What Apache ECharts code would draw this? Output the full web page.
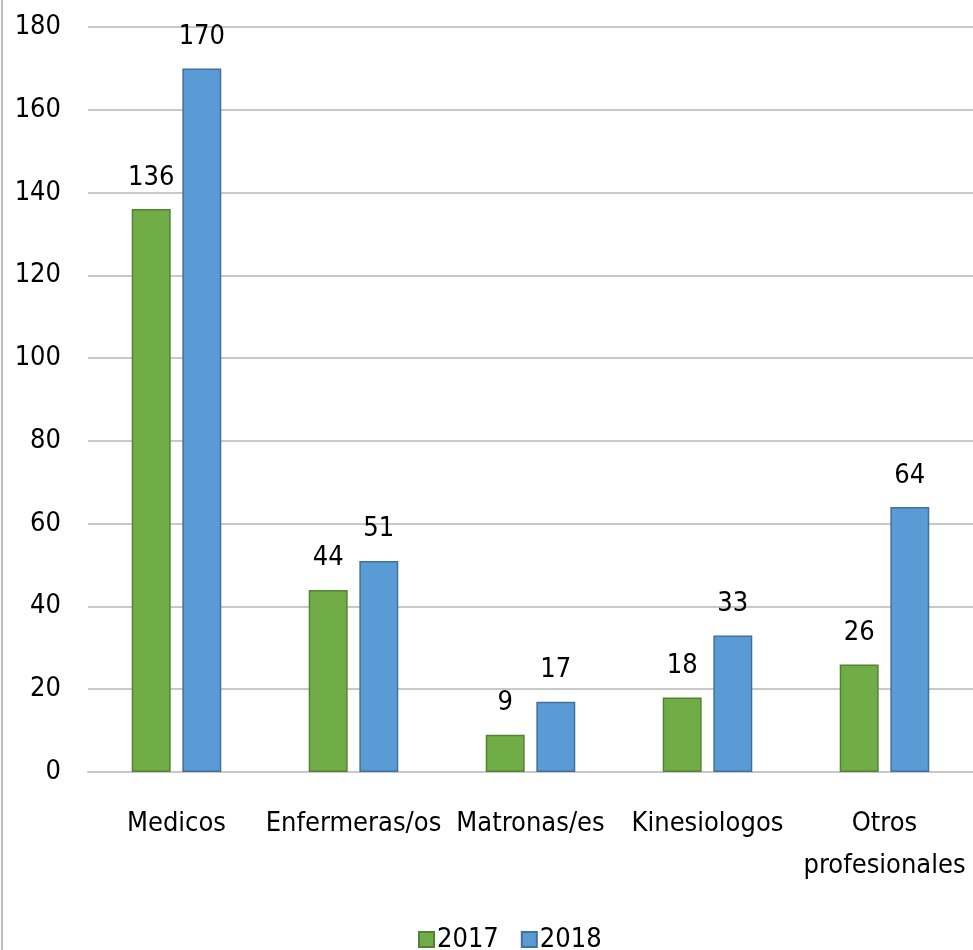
<!DOCTYPE html>
<html><head><meta charset="utf-8">
<script src="https://cdn.jsdelivr.net/npm/echarts@6/dist/echarts.min.js"></script>
<style>html,body{margin:0;padding:0;background:#fff}#c{width:973px;height:950px}</style>
</head><body><div id="c"></div>
<script>
const categories = ['Medicos', 'Enfermeras/os', 'Matronas/es', 'Kinesiologos', 'Otros\nprofesionales'];
const values2017 = [136, 44, 9, 18, 26];
const values2018 = [170, 51, 17, 33, 64];
const seriesNames = ['2017', '2018'];
const yTicks = {min: 0, max: 180, interval: 20};

const FONT = "'DejaVu Sans Condensed', sans-serif";
const FS = 27;
const chart = echarts.init(document.getElementById('c'));
const lbl = {show: true, position: 'top', distance: 18, fontFamily: FONT, fontSize: FS, color: '#000'};
chart.setOption({
  animation: false,
  grid: {left: 88, right: -4, top: 27, bottom: 178, containLabel: false},
  legend: {
    top: 921, left: 413, itemWidth: 15, itemHeight: 15, itemGap: 22, icon: 'rect',
    textStyle: {fontFamily: FONT, fontSize: FS, color: '#000', padding: [0, 0, 0, -2]},
    data: seriesNames
  },
  xAxis: {
    type: 'category', data: categories,
    axisLine: {lineStyle: {color: '#c8c8c8', width: 2}},
    axisTick: {show: false},
    axisLabel: {fontFamily: FONT, fontSize: FS, color: '#000', margin: 31, lineHeight: 42, interval: 0}
  },
  yAxis: {
    type: 'value', min: yTicks.min, max: yTicks.max, interval: yTicks.interval,
    axisLine: {show: false}, axisTick: {show: false},
    splitLine: {lineStyle: {color: '#c8c8c8', width: 2}},
    axisLabel: {fontFamily: FONT, fontSize: FS, color: '#000', margin: 27}
  },
  series: [
    {name: seriesNames[0], type: 'bar', data: values2017, barWidth: '22%', barGap: '30%',
     itemStyle: {color: '#70AD47', borderColor: '#548235', borderWidth: 1.5}, label: lbl},
    {name: seriesNames[1], type: 'bar', data: values2018, barWidth: '22%',
     itemStyle: {color: '#5B9BD5', borderColor: '#41719C', borderWidth: 1.5}, label: lbl}
  ],
  graphic: [{type: 'line', shape: {x1: 2, y1: 0, x2: 2, y2: 950}, style: {stroke: '#bdbdbd', lineWidth: 2}}]
});
</script></body></html>
